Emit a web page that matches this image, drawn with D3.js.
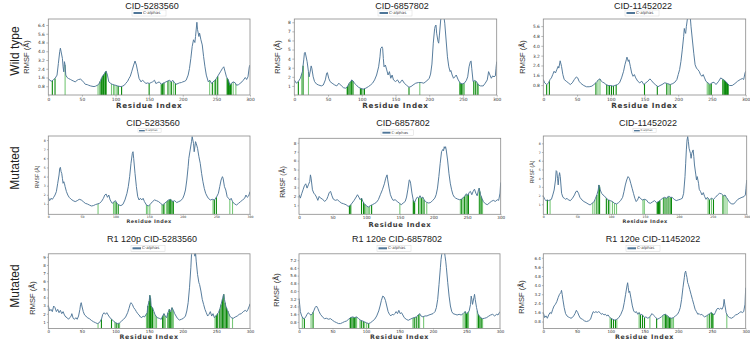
<!DOCTYPE html>
<html><head><meta charset="utf-8">
<script src="https://cdn.jsdelivr.net/npm/d3@7"></script>
<style>body{margin:0;background:#fff}svg{display:block}</style>
</head><body>
<svg id="chart" width="750" height="341"></svg>
<script>
// ---------- DATA ----------
const rowLabels = ["Wild type", "Mutated", "Mutated"];
const titles = ["CID-5283560", "CID-6857802", "CID-11452022",
  "CID-5283560", "CID-6857802", "CID-11452022",
  "R1 120p CID-5283560", "R1 120e CID-6857802", "R1 120e CID-11452022"];
const legendLabel = "C-alphas";
const xTicks = [0, 50, 100, 150, 200, 250, 300];
const yTicksA = [0.8, 1.6, 2.4, 3.2, 4.0, 4.8, 5.6, 6.4];
const yTicksB = [1, 2, 3, 4, 5, 6, 7, 8];
const yTicksC = [0.8, 1.6, 2.4, 3.2, 4.0, 4.8, 5.6];
const yTicksD = [1, 2, 3, 4, 5, 6, 7, 8, 9];
const yTicksE = [0.8, 1.6, 2.4, 3.2, 4.0, 4.8, 5.6, 6.4, 7.2];

// RMSF series: [residue index, RMSF (Å)]
const wt1 = [[0,1.51],[2,1.35],[5,1.26],[8,1.42],[10,1.51],[13,1.82],[15,2.89],[17,3.97],[18,4.28],[20,3.66],[21,3.35],[22,2.58],[23,2.12],[24,3.05],[25,2.74],[26,1.82],[28,1.6],[30,1.51],[33,1.42],[35,1.35],[38,1.26],[40,1.2],[43,1.35],[45,1.42],[48,1.45],[50,1.35],[53,1.14],[55,0.98],[58,0.95],[60,0.89],[63,0.83],[65,0.8],[68,0.77],[70,0.8],[73,0.89],[75,0.98],[78,1.35],[80,1.66],[83,1.91],[85,2.12],[86,2.18],[88,1.82],[90,1.2],[93,1.05],[95,0.98],[98,0.92],[100,0.89],[103,0.83],[105,0.8],[108,0.77],[110,0.8],[113,0.89],[115,1.05],[118,1.26],[120,1.51],[122,1.72],[124,2.12],[127,2.74],[129,3.11],[131,2.74],[133,2.12],[135,1.51],[138,1.2],[140,1.35],[143,1.2],[145,1.05],[148,1.11],[150,1.05],[153,1.14],[155,1.2],[158,1.35],[160,1.05],[163,1.14],[165,1.2],[168,0.98],[170,1.05],[173,1.14],[175,1.2],[178,1.29],[180,1.35],[183,1.2],[185,1.35],[188,1.11],[190,0.98],[193,1.05],[195,1.11],[198,1.14],[200,1.2],[203,1.26],[205,1.35],[208,1.82],[210,2.43],[212,3.35],[214,4.43],[216,5.05],[218,4.8],[219,5.35],[221,6.65],[222,5.97],[224,5.35],[225,5.66],[227,5.05],[229,4.58],[231,3.51],[233,2.58],[235,1.82],[238,1.2],[240,1.35],[243,1.05],[245,1.2],[248,1.35],[250,1.51],[253,1.82],[256,2.12],[259,2.43],[261,2.58],[263,2.12],[265,1.66],[268,1.35],[270,0.89],[272,1.05],[275,1.2],[278,1.11],[280,0.89],[283,0.95],[285,1.05],[288,1.2],[290,1.35],[293,1.6],[295,1.42],[297,1.66],[299,2.58],[300,2.74]];
const wt2 = [[0,1.66],[3,1.3],[6,1.48],[9,1.84],[12,2.57],[14,3.86],[15,4.6],[16,4.7],[17,4.4],[19,3.67],[21,2.57],[22,2.0],[24,2.76],[25,3.2],[26,2.94],[28,2.0],[30,1.48],[33,1.2],[36,1.1],[40,1.0],[43,1.1],[46,1.66],[48,2.4],[49,2.47],[51,1.84],[53,1.48],[56,1.3],[60,1.1],[63,1.0],[66,1.3],[70,1.0],[73,0.8],[76,0.75],[78,0.85],[80,1.1],[82,1.37],[84,1.48],[85,1.66],[87,1.55],[89,1.3],[92,1.1],[95,0.85],[98,0.75],[102,0.64],[106,0.75],[110,0.93],[113,1.1],[116,1.3],[119,1.66],[122,2.2],[125,3.1],[127,4.2],[128,5.1],[130,5.3],[131,5.1],[132,4.0],[133,3.1],[135,3.3],[137,2.76],[139,2.2],[141,2.57],[143,1.84],[145,2.2],[147,1.66],[150,1.48],[153,1.66],[156,1.3],[160,1.66],[163,1.3],[166,1.1],[170,0.85],[173,0.93],[176,1.1],[180,1.3],[184,1.37],[188,1.37],[192,1.3],[195,1.48],[198,1.66],[200,1.84],[202,2.3],[204,3.4],[206,5.7],[208,7.3],[209,7.6],[210,7.7],[211,6.8],[213,5.9],[214,5.7],[215,6.5],[217,8.25],[219,9.0],[221,9.0],[223,7.9],[225,6.05],[227,4.2],[229,3.1],[231,2.57],[232,2.7],[234,2.2],[236,1.84],[238,2.0],[240,2.2],[243,1.66],[246,1.3],[249,1.22],[252,1.3],[255,1.6],[257,2.0],[259,3.1],[261,3.67],[262,3.75],[263,2.94],[265,1.48],[267,1.6],[270,1.48],[273,1.1],[276,1.0],[280,1.0],[283,1.3],[286,1.66],[288,2.57],[290,2.2],[292,1.84],[294,2.1],[296,2.0],[298,2.1],[299,2.94],[300,3.67]];
const wt3 = [[0,1.26],[2,0.99],[5,0.85],[8,0.99],[10,1.26],[12,1.39],[14,1.66],[16,1.93],[18,1.79],[20,2.06],[22,2.33],[23,2.19],[25,2.78],[27,2.33],[29,1.66],[31,1.26],[34,1.12],[37,0.99],[40,0.85],[43,0.99],[46,1.26],[49,1.47],[51,1.39],[53,1.12],[56,0.93],[60,0.77],[64,0.67],[68,0.67],[72,0.72],[75,0.85],[78,0.99],[80,1.12],[82,1.26],[84,1.31],[86,1.12],[88,1.04],[90,0.99],[93,0.85],[96,0.77],[100,0.77],[103,0.72],[106,0.77],[110,0.85],[113,0.99],[116,1.39],[119,1.93],[121,2.46],[123,2.86],[124,3.08],[126,2.73],[127,2.86],[129,2.33],[131,1.79],[133,1.52],[135,1.66],[137,1.39],[140,1.12],[143,0.99],[146,1.12],[149,0.85],[152,0.99],[155,1.12],[158,1.31],[160,1.2],[163,0.99],[166,0.85],[170,0.67],[173,0.77],[176,0.85],[180,0.99],[184,0.93],[188,0.85],[192,0.93],[195,1.04],[198,1.26],[200,1.66],[202,2.06],[204,2.73],[206,3.67],[208,4.74],[209,5.41],[210,5.14],[211,5.01],[212,5.55],[214,6.35],[216,6.48],[218,6.22],[219,5.55],[221,4.47],[223,3.4],[225,2.46],[227,2.19],[229,2.06],[231,1.93],[233,1.66],[235,1.52],[237,1.66],[239,1.39],[241,1.12],[244,0.99],[247,0.85],[250,0.99],[253,1.04],[256,0.85],[260,1.12],[263,1.39],[265,1.31],[267,1.26],[270,1.12],[273,0.93],[276,0.77],[280,0.77],[284,0.93],[288,1.12],[292,1.26],[295,1.34],[297,1.26],[299,1.79],[300,1.93]];
const mut1 = [[0,1.73],[2,1.36],[4,1.62],[6,1.51],[8,1.73],[10,1.98],[12,2.35],[14,3.26],[16,4.17],[17,4.9],[18,5.01],[19,4.54],[20,4.35],[21,3.81],[22,3.26],[23,3.44],[24,3.26],[25,2.9],[27,2.35],[29,1.98],[31,1.73],[34,1.51],[37,1.36],[40,1.26],[43,1.36],[46,1.51],[49,1.44],[52,1.26],[55,1.07],[58,1.0],[61,0.89],[64,0.78],[67,0.82],[70,0.93],[73,1.0],[76,1.07],[79,1.26],[82,1.62],[84,1.98],[86,2.09],[88,1.73],[90,1.98],[92,1.44],[95,1.07],[98,1.26],[100,1.36],[102,1.07],[105,0.89],[108,0.82],[111,0.96],[114,1.44],[117,2.17],[119,2.9],[121,3.99],[123,5.45],[125,6.54],[126,6.72],[127,5.99],[129,4.35],[131,2.9],[133,1.8],[135,1.44],[137,1.62],[139,1.44],[141,1.62],[143,1.26],[146,0.89],[149,0.78],[152,1.0],[155,1.26],[158,1.44],[161,1.36],[164,1.26],[167,1.07],[170,0.89],[173,1.07],[176,1.26],[179,1.44],[182,1.51],[185,1.26],[188,1.36],[191,1.15],[194,1.26],[197,1.36],[200,1.62],[202,1.98],[204,2.53],[206,3.62],[208,5.08],[209,5.99],[211,6.91],[213,7.82],[214,8.36],[216,7.63],[217,6.72],[219,7.82],[220,7.63],[222,7.09],[224,6.18],[226,5.45],[228,4.35],[230,3.44],[232,2.71],[234,2.17],[236,1.87],[238,1.62],[241,1.44],[244,1.51],[247,1.44],[250,1.73],[253,2.17],[255,2.9],[257,3.62],[259,3.99],[260,3.81],[262,2.9],[264,2.53],[266,1.8],[268,1.62],[270,1.44],[272,1.62],[274,1.26],[277,1.0],[280,0.89],[283,1.07],[286,1.26],[289,1.44],[292,1.62],[294,1.98],[296,1.73],[298,1.87],[300,2.35]];
const mut2 = [[0,2.19],[2,1.81],[4,2.3],[6,2.74],[8,3.19],[10,3.41],[12,2.93],[14,3.3],[16,3.67],[17,4.41],[18,4.04],[20,2.74],[22,2.37],[24,2.19],[26,1.93],[28,1.56],[30,2.0],[32,1.81],[35,1.7],[38,1.44],[41,1.63],[43,2.0],[45,2.44],[47,2.56],[49,2.07],[51,1.7],[54,1.56],[57,1.63],[60,1.44],[63,1.26],[66,1.19],[70,1.07],[73,0.89],[76,0.96],[79,1.26],[82,1.56],[85,1.93],[87,2.19],[89,1.93],[91,1.63],[93,1.81],[95,1.44],[97,1.19],[100,0.96],[103,0.81],[106,0.96],[109,1.07],[112,1.19],[115,1.33],[118,1.63],[121,2.19],[124,2.74],[127,3.41],[129,4.04],[131,4.41],[132,3.85],[134,2.93],[136,2.19],[138,1.81],[140,1.56],[143,1.63],[146,1.44],[149,1.26],[152,1.07],[155,1.26],[158,1.44],[160,1.93],[162,2.81],[164,3.85],[165,3.78],[166,3.48],[168,2.37],[170,1.56],[172,1.33],[174,1.7],[176,1.93],[178,1.81],[180,2.07],[182,1.81],[184,1.93],[186,1.63],[188,1.44],[190,1.33],[193,1.26],[196,1.33],[199,1.56],[202,1.81],[204,2.19],[206,2.93],[208,4.22],[210,5.7],[212,7.0],[214,7.26],[215,7.11],[216,7.56],[217,7.37],[218,7.56],[219,7.19],[221,6.07],[223,4.59],[225,3.48],[227,2.74],[229,2.19],[231,1.93],[233,1.81],[236,1.7],[239,1.63],[242,1.7],[245,1.93],[247,2.07],[249,2.3],[251,2.07],[253,2.44],[255,2.56],[257,2.19],[259,2.56],[261,2.81],[263,2.37],[265,2.07],[267,2.74],[268,2.93],[270,2.19],[272,1.81],[274,1.44],[277,1.19],[280,1.07],[283,1.26],[286,1.44],[289,1.56],[292,1.44],[295,1.63],[297,1.56],[299,2.37],[300,3.56]];
const mut3 = [[0,1.96],[2,1.57],[4,1.42],[6,1.5],[8,1.42],[10,1.5],[12,1.57],[14,2.07],[16,2.64],[18,3.79],[19,4.86],[20,4.75],[21,3.98],[22,3.22],[23,4.18],[24,4.63],[25,4.18],[27,2.26],[29,1.8],[31,1.69],[33,1.57],[35,1.69],[37,1.5],[40,1.42],[43,1.69],[46,2.07],[48,2.45],[50,2.53],[52,2.26],[54,1.8],[57,1.5],[60,1.31],[63,1.19],[66,1.04],[69,0.92],[72,1.11],[75,1.31],[77,1.69],[79,2.07],[81,2.64],[82,3.22],[83,3.03],[84,2.64],[86,2.26],[88,2.07],[90,1.96],[93,1.69],[96,1.5],[99,1.42],[102,1.31],[105,1.11],[108,1.04],[111,1.19],[114,1.42],[117,1.8],[119,2.45],[121,3.22],[123,3.79],[125,4.18],[127,3.98],[129,3.41],[131,2.84],[133,2.26],[135,1.69],[137,1.31],[139,1.5],[141,1.88],[143,1.69],[146,1.5],[149,1.57],[152,1.5],[155,1.19],[158,1.11],[161,1.27],[164,1.42],[167,1.19],[170,1.31],[173,1.5],[176,1.69],[179,1.8],[182,1.69],[185,1.96],[187,1.8],[190,1.8],[193,1.57],[196,1.42],[199,1.5],[202,1.57],[205,1.69],[207,2.26],[209,4.18],[210,5.71],[211,7.24],[212,8.38],[213,8.77],[214,8.19],[215,7.43],[217,6.85],[218,6.28],[219,6.85],[221,7.24],[222,6.47],[223,5.51],[225,4.37],[226,3.79],[227,4.18],[229,3.41],[230,2.72],[232,2.45],[234,2.07],[236,2.34],[238,1.88],[240,1.57],[242,1.8],[245,1.5],[248,1.69],[251,1.57],[254,1.8],[257,2.07],[260,2.26],[263,2.19],[266,1.96],[268,2.07],[270,1.8],[272,1.57],[275,1.19],[278,1.04],[281,1.04],[284,1.31],[287,1.57],[290,1.69],[293,1.8],[296,1.88],[298,2.07],[299,2.84],[300,3.79]];
const r1a = [[0,3.04],[2,2.35],[4,2.55],[6,2.27],[8,2.96],[10,2.76],[12,2.27],[14,2.55],[16,2.14],[18,2.43],[20,2.02],[22,2.27],[24,1.86],[26,1.61],[28,1.53],[30,1.33],[32,1.53],[34,1.73],[35,2.02],[37,1.45],[39,1.33],[41,1.53],[43,1.33],[45,1.73],[47,2.55],[48,3.16],[49,3.37],[50,2.96],[52,2.27],[54,1.86],[56,1.73],[58,1.53],[61,1.41],[64,1.2],[67,1.04],[70,0.92],[73,0.8],[76,0.92],[79,1.33],[81,1.94],[83,2.14],[85,1.94],[87,2.14],[89,1.86],[91,1.61],[94,1.33],[97,1.12],[100,0.92],[103,0.8],[106,0.88],[109,1.12],[112,1.33],[115,1.61],[118,2.14],[120,2.67],[122,3.24],[123,3.37],[125,3.16],[127,2.76],[129,2.55],[131,2.27],[133,2.02],[135,1.86],[137,1.61],[139,1.53],[141,1.73],[143,1.61],[145,1.86],[147,2.14],[148,2.96],[150,3.57],[151,4.27],[152,3.98],[153,2.96],[155,2.76],[157,2.27],[159,1.86],[162,1.53],[165,1.45],[168,1.33],[170,1.73],[172,2.02],[174,1.73],[176,1.53],[178,2.14],[180,2.55],[182,2.27],[184,2.76],[186,2.43],[188,2.02],[190,1.73],[192,1.45],[195,1.24],[198,1.33],[201,1.45],[204,1.73],[206,2.35],[208,3.37],[210,5.2],[212,7.65],[213,9.29],[214,10.1],[216,10.5],[217,9.9],[218,9.08],[219,9.49],[220,8.47],[222,6.84],[224,5.82],[225,5.61],[227,4.8],[229,3.78],[231,3.16],[233,2.55],[235,2.14],[237,1.73],[239,1.94],[241,2.27],[243,1.73],[245,2.02],[247,1.53],[249,1.73],[251,1.94],[253,2.14],[255,2.55],[257,3.16],[259,3.78],[260,4.18],[261,4.39],[262,3.78],[264,2.96],[266,2.55],[268,2.14],[270,1.73],[272,1.53],[275,1.45],[278,1.61],[281,1.73],[284,1.94],[287,2.02],[290,2.27],[293,2.43],[295,2.27],[297,2.55],[299,2.96],[300,3.24]];
const r1b = [[0,3.24],[1,2.62],[2,1.87],[4,1.42],[6,1.18],[8,1.14],[10,1.32],[12,1.59],[14,1.76],[16,1.59],[18,1.52],[20,1.66],[22,1.94],[24,2.28],[26,2.45],[28,2.21],[30,1.87],[32,1.59],[34,1.42],[36,1.25],[38,1.14],[41,1.18],[44,1.08],[47,1.14],[50,0.97],[53,0.83],[56,0.73],[59,0.63],[62,0.63],[65,0.73],[68,0.83],[71,0.9],[74,1.08],[77,1.25],[80,1.32],[83,1.25],[86,1.32],[89,1.14],[92,0.97],[95,0.9],[98,0.8],[101,0.7],[104,0.63],[107,0.73],[110,0.9],[113,1.08],[116,1.42],[119,1.94],[121,2.45],[123,3.04],[125,3.48],[127,3.38],[129,3.04],[131,2.45],[133,1.87],[135,1.59],[137,1.42],[139,1.59],[141,1.52],[143,1.66],[145,1.87],[147,1.66],[149,2.0],[151,1.66],[153,1.76],[155,1.52],[157,1.25],[160,1.08],[163,0.97],[166,1.08],[169,1.18],[172,1.25],[175,1.32],[178,1.52],[180,1.66],[182,1.42],[185,1.32],[188,1.42],[191,1.42],[194,1.52],[197,1.59],[200,1.66],[203,1.87],[205,2.28],[207,3.14],[209,4.69],[211,6.41],[212,7.27],[213,7.79],[215,8.3],[217,8.13],[218,7.61],[219,7.1],[220,6.41],[222,4.86],[224,3.48],[226,2.45],[228,1.87],[230,1.66],[233,1.59],[236,1.52],[239,1.59],[242,1.52],[245,1.66],[248,1.87],[250,1.66],[252,1.76],[254,1.94],[256,2.62],[257,3.48],[258,3.14],[259,2.62],[261,3.31],[262,3.66],[263,3.14],[265,2.28],[267,1.66],[269,1.42],[271,1.25],[274,1.14],[277,1.18],[280,1.25],[283,1.39],[286,1.52],[289,1.59],[292,1.42],[295,1.59],[297,1.52],[299,1.76],[300,1.87]];
const r1c = [[0,1.59],[2,1.15],[4,1.3],[6,1.09],[8,1.38],[10,1.59],[12,1.5],[14,1.88],[16,2.17],[18,2.32],[20,2.55],[22,2.9],[24,3.19],[26,3.34],[27,3.54],[28,3.19],[29,2.75],[31,2.02],[33,1.5],[35,1.3],[37,1.21],[39,1.15],[41,1.09],[43,1.15],[45,1.3],[47,1.5],[49,1.79],[51,1.59],[53,1.3],[55,1.09],[58,1.0],[61,0.86],[64,0.8],[67,0.86],[70,1.0],[72,1.38],[74,1.67],[76,1.59],[78,1.67],[80,1.59],[82,1.67],[84,1.59],[86,1.44],[88,1.5],[90,1.38],[92,1.44],[94,1.3],[96,1.38],[98,1.21],[100,1.09],[103,1.0],[106,0.92],[109,1.0],[112,1.15],[115,1.44],[118,1.88],[120,2.46],[122,3.19],[124,3.92],[125,4.21],[126,3.77],[127,3.34],[128,3.48],[130,2.84],[132,2.17],[134,1.73],[136,1.59],[138,1.67],[140,1.44],[142,1.59],[144,1.38],[146,1.44],[148,1.3],[150,1.15],[152,1.21],[155,1.09],[158,1.21],[161,1.5],[163,1.38],[166,1.21],[169,1.0],[172,1.09],[175,1.21],[178,1.38],[181,1.44],[184,1.3],[187,1.15],[190,1.09],[193,1.15],[196,1.3],[199,1.44],[201,1.67],[203,2.02],[205,2.75],[207,3.77],[209,4.65],[210,5.09],[211,5.23],[212,4.94],[213,4.65],[214,4.21],[215,4.07],[217,3.63],[219,3.19],[221,2.75],[223,2.32],[225,1.88],[227,1.67],[229,1.44],[231,1.5],[233,1.38],[235,1.44],[237,1.3],[239,1.21],[242,1.3],[245,1.44],[247,1.5],[249,1.59],[251,1.5],[253,1.38],[255,1.59],[257,1.88],[259,1.97],[261,1.88],[263,1.97],[265,1.88],[267,2.17],[268,2.75],[269,2.32],[271,1.59],[273,1.3],[276,1.15],[279,1.09],[282,1.21],[285,1.38],[288,1.44],[291,1.59],[293,1.67],[295,1.59],[297,1.67],[299,2.32],[300,3.77]];

// Highlighted residues: [residue, shade] (0 = dark green, 1 = light green)
const barsWt1 = [[6,0],[10,0],[25,1],[74,1],[77,0],[79,0],[81,0],[82,0],[83,0],[85,0],[86,0],[94,1],[97,1],[99,1],[102,1],[104,0],[109,0],[150,0],[168,0],[170,0],[172,0],[178,0],[181,1],[183,0],[186,1],[189,0],[240,1],[244,0],[247,1],[249,0],[252,0],[266,0],[267,0],[268,0],[269,0],[270,0],[271,0],[272,0],[275,1],[279,1]];
const barsWt2 = [[6,0],[11,1],[13,0],[21,1],[78,1],[79,0],[81,0],[83,0],[84,1],[85,0],[87,0],[98,0],[100,0],[102,1],[104,0],[170,0],[186,1],[245,1],[246,0],[248,0],[250,0],[252,1],[266,0],[268,1],[269,0],[272,0],[273,1]];
const barsWt3 = [[5,0],[9,0],[78,0],[81,1],[84,1],[94,0],[96,1],[98,0],[101,0],[104,0],[108,0],[150,0],[169,0],[183,0],[185,1],[188,0],[243,1],[245,1],[247,0],[249,0],[266,0],[267,1],[268,0],[269,0],[270,0],[271,0],[272,0],[273,0],[274,0]];
const barsMut1 = [[74,1],[97,1],[99,1],[101,0],[104,0],[146,1],[148,1],[151,1],[169,1],[171,0],[173,1],[176,1],[178,0],[180,0],[182,0],[184,0],[186,0],[245,1],[247,0],[250,0],[270,1],[274,1]];
const barsMut2 = [[75,0],[77,0],[93,0],[96,0],[98,0],[101,1],[103,1],[105,1],[108,0],[150,1],[170,0],[171,0],[172,0],[178,0],[180,1],[182,0],[184,1],[186,0],[190,1],[240,1],[242,0],[244,1],[246,0],[248,1],[250,0],[252,0],[268,1],[269,0],[271,0],[273,1]];
const barsMut3 = [[6,0],[10,1],[73,1],[76,1],[79,0],[82,0],[83,0],[93,0],[96,0],[98,1],[102,1],[105,1],[108,1],[147,1],[149,1],[168,0],[169,0],[170,0],[171,0],[172,0],[177,1],[178,0],[181,0],[184,0],[187,0],[189,0],[243,1],[245,0],[248,1],[251,0],[265,0],[268,1],[271,1]];
const barsR1a = [[74,1],[79,0],[94,0],[99,1],[101,0],[104,0],[106,1],[146,1],[148,0],[150,0],[151,0],[152,0],[153,0],[155,0],[157,1],[159,1],[161,1],[170,0],[172,0],[174,1],[178,0],[180,0],[182,0],[184,0],[186,1],[248,1],[250,0],[252,0],[255,0],[257,0],[259,0],[261,0],[263,0],[265,0],[267,0],[269,1],[274,1]];
const barsR1b = [[5,1],[8,0],[18,1],[21,0],[76,1],[77,0],[79,0],[81,0],[83,0],[85,0],[86,1],[91,1],[93,0],[96,0],[98,1],[101,1],[104,0],[170,1],[172,0],[175,0],[178,0],[180,1],[186,1],[245,1],[248,0],[250,0],[252,0],[253,1],[266,1],[268,0],[270,0],[272,0],[274,1]];
const barsR1c = [[99,1],[101,0],[104,0],[107,0],[109,1],[142,1],[144,0],[147,0],[150,0],[158,1],[168,0],[177,1],[179,1],[181,0],[183,0],[185,0],[187,0],[189,0],[191,1],[193,1],[243,1],[246,0],[249,0],[251,0],[252,1],[272,1]];

const seriesList = [wt1, wt2, wt3, mut1, mut2, mut3, r1a, r1b, r1c];
const barsList = [barsWt1, barsWt2, barsWt3, barsMut1, barsMut2, barsMut3, barsR1a, barsR1b, barsR1c];
const yTickList = [yTicksA, yTicksB, yTicksC, yTicksB, yTicksB, yTicksB, yTicksD, yTicksE, yTicksA];
const yDomains = [[0, 6.95], [0, 8.36], [0, 6.18], [-0.13, 8.44], [0, 8.5], [-0.15, 8.84], [0.2, 9.37], [0.12, 7.86], [0.19, 6.75]];

// ---------- LAYOUT (positions / styles) ----------
// tf: tick font, ts: tick size, tp: tick padding, xf: x-label font, s: general scale
const layout = [
  {l:48.3, r:250,   t:19,    b:95,    tx:152, ty:8.5,   lgx:132, lgy:13,    ylx:27,  yly:57,  xly:108,   s:1,    tf:4.4, ts:1.6, tp:0.8, xf:7.2},
  {l:294.3,r:496.7, t:19,    b:95,    tx:402, ty:8.5,   lgx:378, lgy:13,    ylx:278, yly:57,  xly:108,   s:1,    tf:4.4, ts:1.6, tp:0.8, xf:7.2},
  {l:543.3,r:745.7, t:19,    b:95,    tx:643, ty:8.5,   lgx:625, lgy:13,    ylx:523, yly:57,  xly:108,   s:1,    tf:4.4, ts:1.6, tp:0.8, xf:7.2},
  {l:48.3, r:250,   t:136,   b:214.3, tx:153, ty:126,   lgx:138, lgy:130.7, ylx:38,  yly:177, xly:222.6, s:0.68, tf:3.1, ts:1.0, tp:0.5, xf:4.9},
  {l:299,  r:500.7, t:138.3, b:214.3, tx:403, ty:126,   lgx:381, lgy:132.7, ylx:283, yly:182, xly:226.5, s:0.95, tf:4.1, ts:1.0, tp:0.6, xf:6.8},
  {l:543.3,r:746.7, t:136,   b:214.3, tx:648, ty:126,   lgx:633, lgy:130.7, ylx:533, yly:172, xly:222.6, s:0.68, tf:3.1, ts:1.0, tp:0.5, xf:4.9},
  {l:48.3, r:250,   t:253.8, b:328.5, tx:152, ty:241.5, lgx:131, lgy:248.3, ylx:33,  yly:298, xly:339.4, s:1,    tf:4.0, ts:1.0, tp:0.4, xf:6.3},
  {l:299,  r:500,   t:253.8, b:328.5, tx:397, ty:241.5, lgx:377, lgy:248.3, ylx:277, yly:290, xly:339.4, s:1,    tf:4.0, ts:1.0, tp:0.4, xf:6.3},
  {l:543.3,r:745.7, t:253.8, b:328.5, tx:653, ty:241.5, lgx:626, lgy:248.3, ylx:522, yly:297, xly:339.4, s:1,    tf:4.0, ts:1.0, tp:0.4, xf:6.3}
];
const rowLabelPos = [[16, 51], [16, 168], [16, 286]];

const lineColor = "#4f7698";
const darkGreen = "#0b8a0b";
const lightGreen = "#78c878";
const frameColor = "#8a8a8a";

const svg = d3.select("#chart");
const defs = svg.append("defs");

rowLabels.forEach((txt, i) => {
  svg.append("text")
    .attr("transform", `translate(${rowLabelPos[i][0]},${rowLabelPos[i][1]}) rotate(-90)`)
    .attr("text-anchor", "middle")
    .attr("dominant-baseline", "middle")
    .style("font-family", "Liberation Sans, Arial, sans-serif")
    .style("font-size", "12px")
    .style("fill", "#222")
    .text(txt);
});

function valueAt(series, r) {
  const i = d3.bisector(d => d[0]).left(series, r);
  if (i <= 0) return series[0][1];
  if (i >= series.length) return series[series.length - 1][1];
  const a = series[i - 1], b = series[i];
  if (b[0] === r) return b[1];
  const t = (r - a[0]) / (b[0] - a[0]);
  return a[1] + (b[1] - a[1]) * t;
}

layout.forEach((L, k) => {
  const series = seriesList[k];
  const s = L.s;
  const x = d3.scaleLinear().domain([0, 300]).range([L.l, L.r]);
  const y = d3.scaleLinear().domain(yDomains[k]).range([L.b, L.t]);
  const g = svg.append("g");

  defs.append("clipPath").attr("id", "clip" + k)
    .append("rect").attr("x", L.l).attr("y", L.t).attr("width", L.r - L.l).attr("height", L.b - L.t);

  const plot = g.append("g").attr("clip-path", `url(#clip${k})`);

  // highlighted residue bars
  plot.selectAll("line.bar").data(barsList[k]).enter().append("line")
    .attr("class", "bar")
    .attr("x1", d => x(d[0])).attr("x2", d => x(d[0]))
    .attr("y1", L.b).attr("y2", d => y(valueAt(series, d[0])))
    .attr("stroke", d => d[1] === 0 ? darkGreen : lightGreen)
    .attr("stroke-width", 1.1);

  // RMSF line
  plot.append("path").datum(series)
    .attr("d", d3.line().x(d => x(d[0])).y(d => y(d[1])))
    .attr("fill", "none")
    .attr("stroke", lineColor)
    .attr("stroke-width", 0.95)
    .attr("stroke-linejoin", "round");

  // frame
  g.append("rect").attr("x", L.l).attr("y", L.t).attr("width", L.r - L.l).attr("height", L.b - L.t)
    .attr("fill", "none").attr("stroke", frameColor).attr("stroke-width", 0.8);

  const fmt = Number.isInteger(yTickList[k][0]) ? d3.format("d") : d3.format(".1f");

  const ya = g.append("g").attr("transform", `translate(${L.l},0)`)
    .call(d3.axisLeft(y).tickValues(yTickList[k]).tickFormat(fmt).tickSize(L.ts + 0.4).tickPadding(L.tp + 0.6));
  ya.select(".domain").remove();
  ya.selectAll("line").attr("stroke", frameColor).attr("stroke-width", 0.6);
  ya.selectAll("text").style("font-family", "DejaVu Sans, sans-serif").style("font-size", L.tf + "px").style("fill", "#333");

  const xa = g.append("g").attr("transform", `translate(0,${L.b})`)
    .call(d3.axisBottom(x).tickValues(xTicks).tickFormat(d3.format("d")).tickSize(L.ts).tickPadding(L.tp));
  xa.select(".domain").remove();
  xa.selectAll("line").attr("stroke", frameColor).attr("stroke-width", 0.6);
  xa.selectAll("text").style("font-family", "DejaVu Sans, sans-serif").style("font-size", L.tf + "px").style("fill", "#333");

  // titles
  g.append("text").attr("x", L.tx).attr("y", L.ty).attr("text-anchor", "middle")
    .style("font-family", "Liberation Sans, Arial, sans-serif").style("font-size", "9px").style("fill", "#222")
    .text(titles[k]);

  // x label
  g.append("text").attr("x", (L.l + L.r) / 2).attr("y", L.xly).attr("text-anchor", "middle")
    .style("font-family", "DejaVu Sans, sans-serif").style("font-size", L.xf + "px")
    .style("font-weight", "bold").style("letter-spacing", (0.7 * s) + "px").style("fill", "#3a3a3a")
    .text("Residue Index");

  // y label
  g.append("text").attr("transform", `translate(${L.ylx},${L.yly}) rotate(-90)`)
    .attr("text-anchor", "middle").attr("dominant-baseline", "middle")
    .style("font-family", "Liberation Sans Narrow, Liberation Sans, Arial, sans-serif")
    .style("font-size", (7.5 * s) + "px").style("fill", "#333")
    .text("RMSF (\u00C5)");

  // legend
  const lw = 34 * s, lh = 6 * s;
  const lg = g.append("g").attr("transform", `translate(${L.lgx},${L.lgy - lh / 2})`);
  lg.append("rect").attr("width", lw).attr("height", lh).attr("fill", "#fff")
    .attr("stroke", "#d8d8d8").attr("stroke-width", 0.5);
  lg.append("line").attr("x1", 1.5 * s).attr("x2", 10 * s).attr("y1", lh / 2).attr("y2", lh / 2)
    .attr("stroke", lineColor).attr("stroke-width", 2 * s);
  lg.append("text").attr("x", 11 * s).attr("y", lh / 2).attr("dominant-baseline", "middle")
    .style("font-family", "DejaVu Sans, sans-serif").style("font-size", (4 * s) + "px").style("fill", "#444")
    .text(legendLabel);
});
</script>
</body></html>
